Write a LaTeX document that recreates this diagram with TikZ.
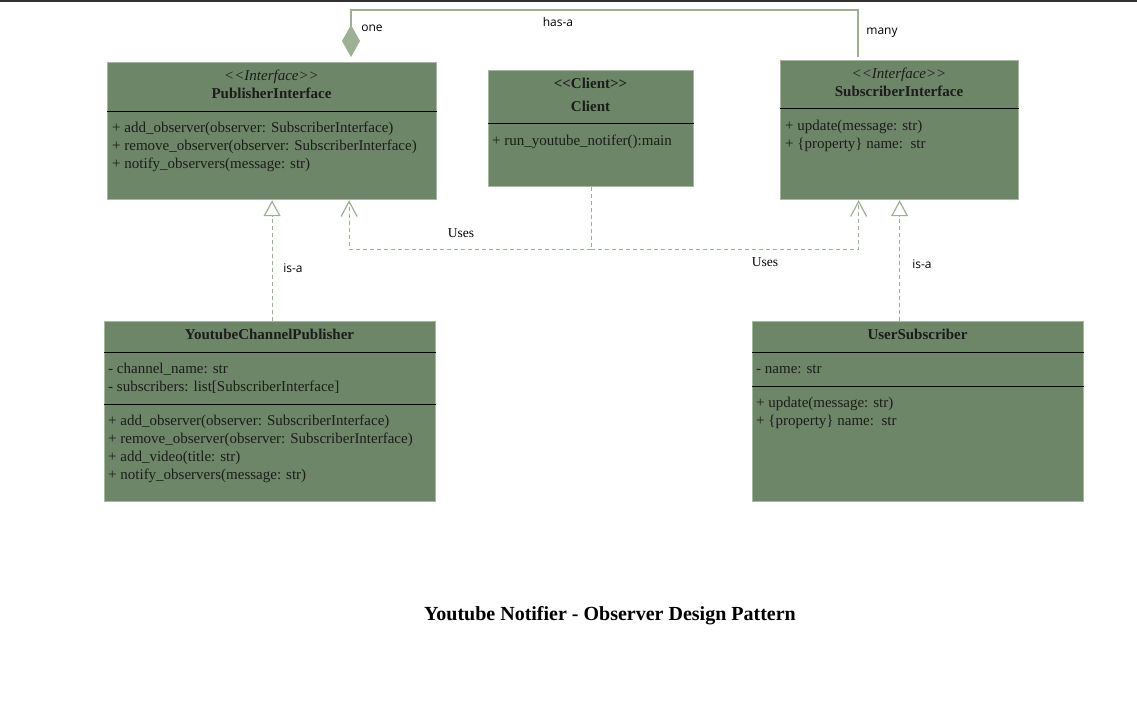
\documentclass[tikz,border=0pt]{standalone}
\usepackage{fontspec}
\setmainfont{Liberation Serif}[Ligatures=TeXOff]
\newfontfamily\lblfont{Open Sans}
\usetikzlibrary{arrows.meta}
\usetikzlibrary{calc}
\definecolor{boxfill}{RGB}{110,134,104}
\definecolor{boxedge}{RGB}{166,184,159}
\definecolor{linkgreen}{RGB}{156,176,148}
\definecolor{inktext}{RGB}{28,28,28}

\begin{document}
\begin{tikzpicture}[x=1pt,y=-1pt,inner sep=0pt,
        umlbox/.style={draw=boxedge,fill=boxfill,line width=1.2pt,anchor=north west},
        member/.style={anchor=base west,text=inktext,font=\fontsize{15}{17}\selectfont},
        headline/.style={anchor=base,text=inktext,font=\fontsize{15}{17}\selectfont\bfseries},
        stereo/.style={anchor=base,text=inktext,font=\fontsize{15}{17}\selectfont\itshape},
        sepline/.style={black,line width=0.9pt},
        linklabel/.style={text=black,font=\lblfont\fontsize{12}{14}\selectfont},
        uselabel/.style={text=black,font=\fontsize{13.5}{15}\selectfont},
        haslink/.style={linkgreen,line width=1.2pt},
        isalink/.style={linkgreen,line width=1.2pt,dash pattern=on 4pt off 3pt,
            -{Triangle[open,length=16pt,width=17pt,fill=white]}},
        uselink/.style={linkgreen,line width=1.2pt,dash pattern=on 4pt off 3pt}]
    \useasboundingbox (0,0) rectangle (1137,715);
    \fill [black!80] (0,0) rectangle (1137,2);

    \node [umlbox,minimum width=329pt,minimum height=137pt] (PubI) at (107,62) {};
    \node [umlbox,minimum width=205pt,minimum height=116pt] (Cli) at (488,70) {};
    \node [umlbox,minimum width=238pt,minimum height=139pt] (SubI) at (780,60) {};
    \node [umlbox,minimum width=331pt,minimum height=180pt] (YCP) at (104,321) {};
    \node [umlbox,minimum width=331pt,minimum height=180pt] (USub) at (752,321) {};

    \draw [sepline] ($(PubI.north west)+(0,49)$) -- ($(PubI.north east)+(0,49)$);
    \draw [sepline] ($(Cli.north west)+(0,53)$) -- ($(Cli.north east)+(0,53)$);
    \draw [sepline] ($(SubI.north west)+(0,48)$) -- ($(SubI.north east)+(0,48)$);
    \draw [sepline] ($(YCP.north west)+(0,31)$) -- ($(YCP.north east)+(0,31)$);
    \draw [sepline] ($(YCP.north west)+(0,83)$) -- ($(YCP.north east)+(0,83)$);
    \draw [sepline] ($(USub.north west)+(0,31)$) -- ($(USub.north east)+(0,31)$);
    \draw [sepline] ($(USub.north west)+(0,65)$) -- ($(USub.north east)+(0,65)$);

    \node [stereo] (PubIst) at (271.5,80) {<<Interface>>};
    \node [headline] (PubInm) at (271.5,98) {PublisherInterface};
    \node [member] (PubIm1) at (112,132) {+ add\_observer(observer: SubscriberInterface)};
    \node [member] (PubIm2) at (112,150) {+ remove\_observer(observer: SubscriberInterface)};
    \node [member] (PubIm3) at (112,168) {+ notify\_observers(message: str)};

    \node [headline] (Clist) at (590.5,88) {<<Client>>};
    \node [headline] (Clinm) at (590.5,111) {Client};
    \node [member] (Clim1) at (492,145) {+ run\_youtube\_notifer():main};

    \node [stereo] (SubIst) at (899,78) {<<Interface>>};
    \node [headline] (SubInm) at (899,96) {SubscriberInterface};
    \node [member] (SubIm1) at (785,130) {+ update(message: str)};
    \node [member] (SubIm2) at (785,148) {+ \{property\} name:\ \ str};

    \node [headline] (YCPnm) at (269.5,339) {YoutubeChannelPublisher};
    \node [member] (YCPa1) at (108,373) {- channel\_name: str};
    \node [member] (YCPa2) at (108,391) {- subscribers: list[SubscriberInterface]};
    \node [member] (YCPm1) at (108,425) {+ add\_observer(observer: SubscriberInterface)};
    \node [member] (YCPm2) at (108,443) {+ remove\_observer(observer: SubscriberInterface)};
    \node [member] (YCPm3) at (108,461) {+ add\_video(title: str)};
    \node [member] (YCPm4) at (108,479) {+ notify\_observers(message: str)};

    \node [headline] (USubnm) at (917.5,339) {UserSubscriber};
    \node [member] (USuba1) at (756,373) {- name: str};
    \node [member] (USubm1) at (756,407) {+ update(message: str)};
    \node [member] (USubm2) at (756,425) {+ \{property\} name:\ \ str};

    \draw [haslink,shorten <=5pt,shorten >=3pt,{Diamond[length=32pt,width=18pt,fill=linkgreen]}-]
        ($(PubI.north west)+(244,0)$) -- ++(0,-52) -| ($(SubI.north west)+(78,0)$);
    \node [linklabel] (oneLbl) at (372,28) {one};
    \node [linklabel] (hasLbl) at (558,22) {has-a};
    \node [linklabel] (manyLbl) at (882,33) {many};

    \draw [isalink] (YCP.north -| PubI.south) -- (PubI.south);
    \node [linklabel] (isaLeft) at (293,268) {is-a};
    \draw [isalink] (USub.north -| SubI.south) -- (SubI.south);
    \node [linklabel] (isaRight) at (922,264) {is-a};

    \draw [uselink] (Cli.south) -- ++(0,62) coordinate (usesJoin);
    \draw [uselink,-{Straight Barb[length=15pt,width=16pt]}]
        (usesJoin) -| ($(PubI.south)+(77,0)$);
    \draw [uselink,-{Straight Barb[length=15pt,width=16pt]}]
        (usesJoin) -| ($(SubI.south)+(-41,0)$);
    \node [uselabel] (usesLeft) at (461,233) {Uses};
    \node [uselabel] (usesRight) at (765,262) {Uses};

    \node [font=\fontsize{20}{24}\selectfont\bfseries] (title) at (610,616)
        {Youtube Notifier - Observer Design Pattern};
\end{tikzpicture}
\end{document}
